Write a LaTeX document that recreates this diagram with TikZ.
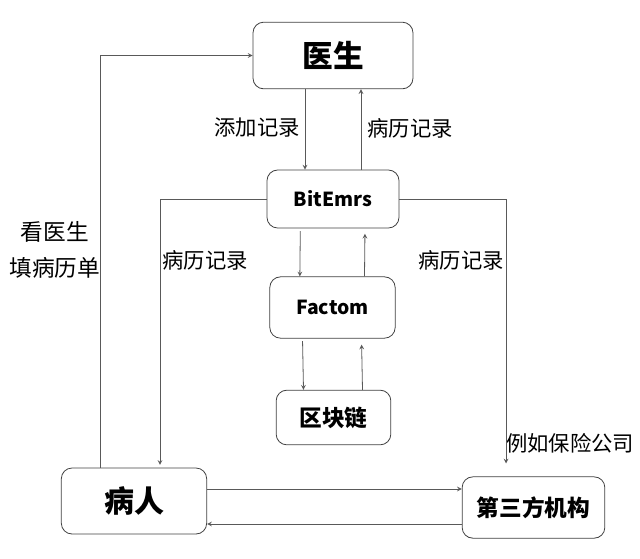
\documentclass[tikz,border=0pt]{standalone}
\usepackage{fontspec}
\setmainfont{Noto Sans CJK SC}
\usetikzlibrary{arrows}

\begin{document}
\begin{tikzpicture}[x=0.75pt, y=-0.75pt]
      \tikzstyle{process} = [rectangle, rounded corners=8pt, inner sep=0pt, text centered, draw=black!75, semithick, font=\bfseries\fontsize{17}{17}\selectfont]
      \tikzstyle{note} = [inner sep=0pt, font=\fontsize{16}{16}\selectfont]
      \tikzstyle{link} = [semithick, ->, >=stealth, black!65]

      \useasboundingbox (0,0) rectangle (640,558);

      \node (doctor) [process, minimum width=120pt, minimum height=50pt, font=\bfseries\fontsize{23}{23}\selectfont] at (333,55.5) {医生};
      \node (bitemrs) [process, minimum width=99pt, minimum height=43.5pt, font=\bfseries\fontsize{14.5}{14.5}\selectfont] at (333,199) {BitEmrs};
      \node (factom) [process, minimum width=94pt, minimum height=46pt, font=\bfseries\fontsize{14.5}{14.5}\selectfont] at (332.5,307.5) {Factom};
      \node (chain) [process, minimum width=86pt, minimum height=41pt] at (333.5,417.5) {区块链};
      \node (patient) [process, minimum width=109pt, minimum height=49.5pt, font=\bfseries\fontsize{22.5}{22.5}\selectfont] at (134,501) {病人};
      \node (third) [process, minimum width=107pt, minimum height=46pt] at (533.5,507.5) {第三方机构};

      \node (add) [note] at (257,128) {添加记录};
      \node (recup) [note] at (410,128) {病历记录};
      \node (recleft) [note] at (205,260) {病历记录};
      \node (recright) [note] at (461,260) {病历记录};
      \node (visit) [note, font=\fontsize{17}{17}\selectfont] at (55,232) {看医生};
      \node (form) [note, font=\fontsize{17}{17}\selectfont] at (55,268) {填病历单};
      \node (insure) [note] at (570,443) {例如保险公司};

      % doctor <-> bitemrs
      \draw [link] ([xshift=-21pt]doctor.south) -- ([xshift=-21pt]bitemrs.north);
      \draw [link] ([xshift=21pt]bitemrs.north) -- ([xshift=21pt]doctor.south);
      % bitemrs <-> factom
      \draw [link, shorten <=2pt] ([xshift=-24.5pt]bitemrs.south) -- ([xshift=-24.5pt]factom.north);
      \draw [link, shorten >=4pt] ([xshift=24pt]factom.north) -- ([xshift=24pt]bitemrs.south);
      % factom <-> chain
      \draw [link, shorten <=2pt] ([xshift=-22.5pt]factom.south) -- ([xshift=-22.5pt]chain.north);
      \draw [link, shorten >=4.5pt] ([xshift=21.75pt]chain.north) -- ([xshift=21.75pt]factom.south);
      % records out to patient and third party
      \draw [link, shorten >=2pt] (bitemrs.west) -| ([xshift=19.5pt]patient.north);
      \draw [link, shorten >=9.75pt] (bitemrs.east) -| ([xshift=-20.6pt]third.north);
      % patient to doctor
      \draw [link] ([xshift=-25.5pt]patient.north) |- (doctor.west);
      % patient <-> third party
      \coordinate (pout) at ([yshift=9pt]patient.east);
      \coordinate (pin) at ([yshift=-17.25pt]patient.east);
      \draw [link] (pout) -- (pout -| third.west);
      \draw [link] (pin -| third.west) -- (pin);
    \end{tikzpicture}
\end{document}
